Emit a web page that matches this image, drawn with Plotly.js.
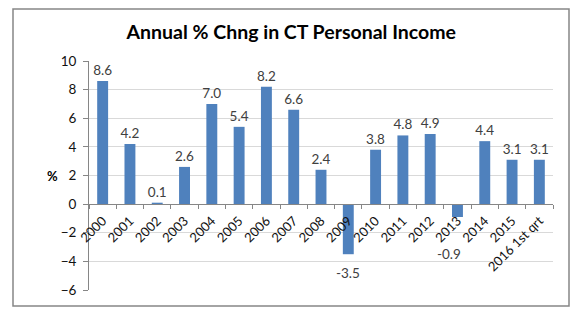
<!DOCTYPE html>
<html><head><meta charset="utf-8">
<script src="https://cdn.plot.ly/plotly-3.0.1.min.js"></script>
<style>html,body{margin:0;padding:0;background:#fff}#c{width:586px;height:321px}</style>
</head><body><div id="c"></div>
<script>
const categories = ["2000","2001","2002","2003","2004","2005","2006","2007","2008","2009","2010","2011","2012","2013","2014","2015","2016 1st qrt"];
const values = [8.6,4.2,0.1,2.6,7.0,5.4,8.2,6.6,2.4,-3.5,3.8,4.8,4.9,-0.9,4.4,3.1,3.1];
const yTicks = [-6,-4,-2,0,2,4,6,8,10];
const titleText = "Annual % Chng in CT Personal Income";
const yTitle = "%";

const font = "Lato, 'Open Sans', sans-serif";
const labelFont = {family: font, size: 13.5, color: "#404040"};
const trace = {
  type: "bar", x: categories, y: values,
  marker: {color: "#4F81BD"},
  text: values.map(v => v >= 0 ? v.toFixed(1) : ""),
  textposition: "outside", cliponaxis: false, constraintext: "none",
  textfont: labelFont,
  hoverinfo: "none"
};
// negative-value labels sit below their bars (the -0.9 one was pushed clear of the axis labels)
const negShift = {"2009": [0, -9], "2013": [-8, -27]};
const negAnn = [];
values.forEach((v, i) => {
  if (v < 0) {
    const s = negShift[categories[i]] || [0, -6];
    negAnn.push({text: v.toFixed(1), x: i, y: v, xref: "x", yref: "y", yanchor: "top",
                 showarrow: false, xshift: s[0], yshift: s[1], font: labelFont});
  }
});
const layout = {
  width: 586, height: 321,
  margin: {l: 89, r: 33, t: 61, b: 31},
  paper_bgcolor: "#fff", plot_bgcolor: "#fff",
  bargap: 0.6, showlegend: false,
  title: {text: "<b>" + titleText + "</b>", font: {family: font, size: 19.5, color: "#000"},
          xref: "container", x: 0.497, yref: "container", y: 0.9, yanchor: "middle", xanchor: "center"},
  xaxis: {type: "category", anchor: "free", position: 6/16, showline: true, linecolor: "#868686", linewidth: 1,
          range: [-0.5, categories.length - 0.5], autorange: false,
          ticks: "outside", tickson: "boundaries", ticklen: 4, tickcolor: "#868686", ticklabelstandoff: 3,
          tickangle: -45, tickfont: {family: font, size: 13, color: "#111"}, showgrid: false, automargin: false},
  yaxis: {range: [-6, 10], tickvals: yTicks, showline: true, linecolor: "#868686", ticks: "outside", ticklen: 5,
          tickcolor: "#868686", gridcolor: "#D9D9D9", zeroline: false, ticklabelstandoff: 4,
          tickfont: {family: font, size: 13.5, color: "#111"}, automargin: false},
  annotations: [{text: "<b>" + yTitle + "</b>", xref: "paper", yref: "paper", x: (45-89)/464, y: 0.5,
                 showarrow: false, font: {family: font, size: 13, color: "#000"}}].concat(negAnn),
  shapes: [{type: "rect", xref: "paper", yref: "paper", x0: (13-89)/464, x1: (569-89)/464,
            y0: (290-306)/229, y1: (290-9)/229, line: {color: "#868686", width: 1.5}}]
};
Plotly.newPlot("c", [trace], layout, {displayModeBar: false, staticPlot: true});
</script></body></html>
